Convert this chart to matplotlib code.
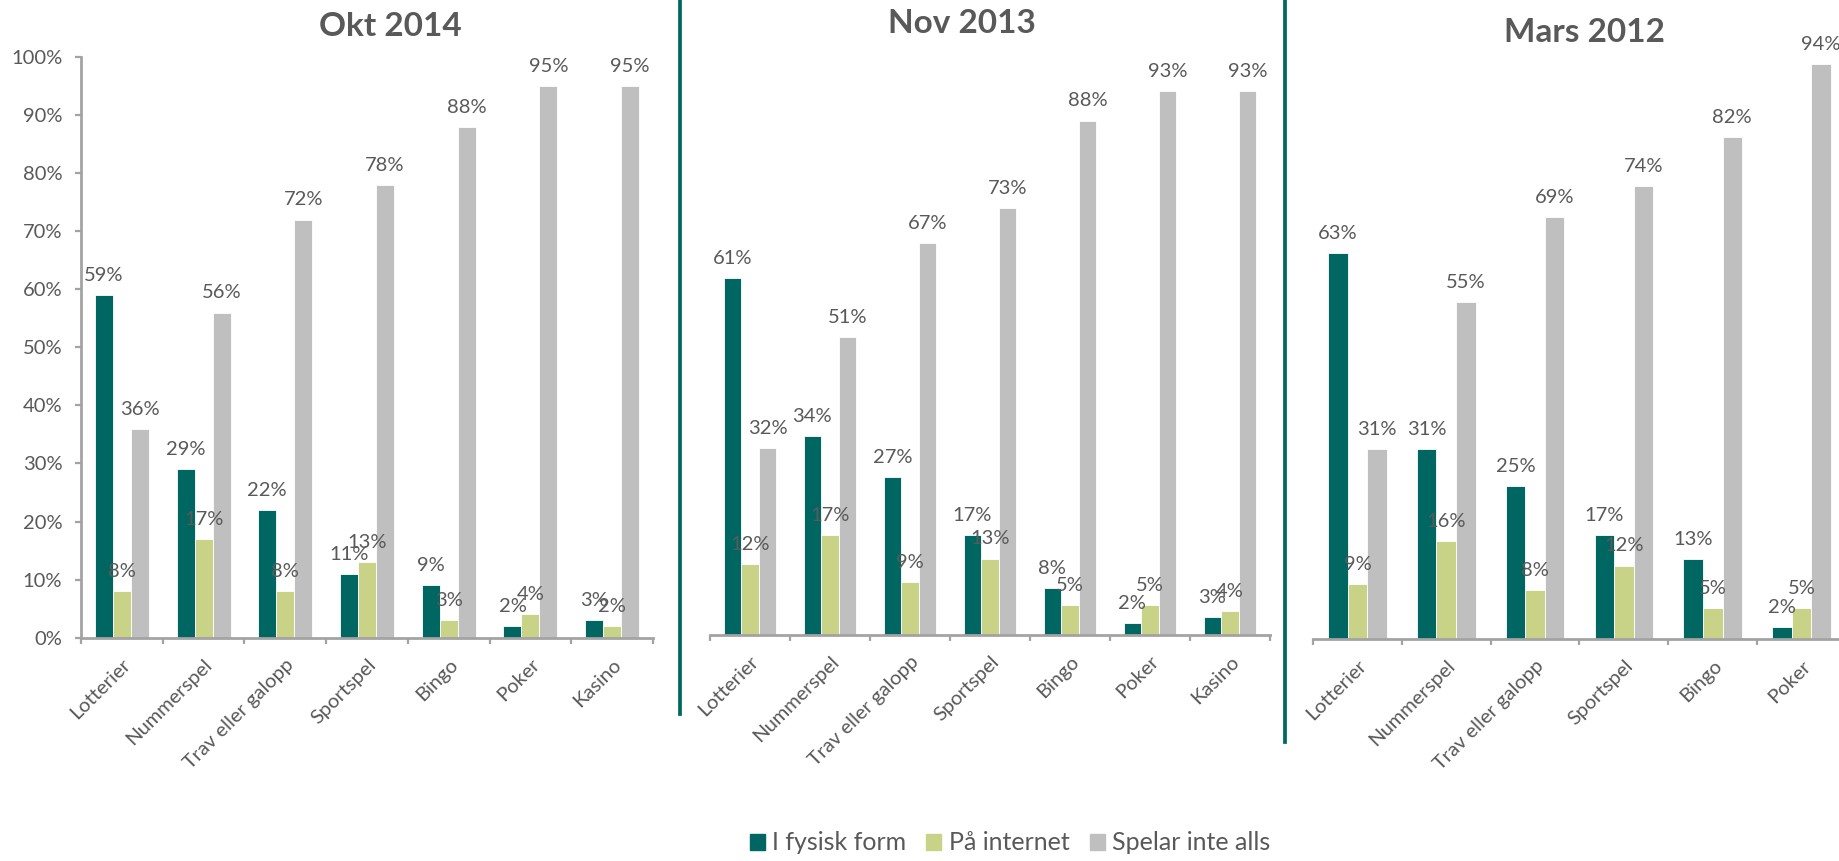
import matplotlib
matplotlib.use('Agg')
import matplotlib.pyplot as plt
from matplotlib.lines import Line2D
from matplotlib.patches import Patch

plt.rcParams['font.family'] = ['Lato', 'DejaVu Sans']

# data
kategorier = ['Lotterier', 'Nummerspel', 'Trav eller galopp', 'Sportspel', 'Bingo', 'Poker', 'Kasino']
serier = ['I fysisk form', 'På internet', 'Spelar inte alls']
titlar = ['Okt 2014', 'Nov 2013', 'Mars 2012']

fysisk_2014 = [59, 29, 22, 11, 9, 2, 3]
internet_2014 = [8, 17, 8, 13, 3, 4, 2]
inte_2014 = [36, 56, 72, 78, 88, 95, 95]

fysisk_2013 = [61, 34, 27, 17, 8, 2, 3]
internet_2013 = [12, 17, 9, 13, 5, 5, 4]
inte_2013 = [32, 51, 67, 73, 88, 93, 93]

fysisk_2012 = [63, 31, 25, 17, 13, 2]
internet_2012 = [9, 16, 8, 12, 5, 5]
inte_2012 = [31, 55, 69, 74, 82, 94]

farger = ['#006661', '#c9d387', '#bfbfbf']
textfarg = '#595959'
axelfarg = '#a3a3a3'

W, H = 1840, 861
fig = plt.figure(figsize=(W / 100, H / 100), dpi=100)


def rect(l, r, bas, topp):
    return [l / W, 1 - bas / H, (r - l) / W, (bas - topp) / H]


paneler = [
    (rect(81, 653, 637.7, 57), [fysisk_2014, internet_2014, inte_2014], True),
    (rect(710, 1270, 634.5, 50.5), [fysisk_2013, internet_2013, inte_2013], False),
    (rect(1313, 1846, 639, 27), [fysisk_2012, internet_2012, inte_2012], False),
]

bredd = 0.22
for pos, data, yaxel in paneler:
    ax = fig.add_axes(pos)
    n = len(data[0])
    x = list(range(n))
    for j, vals in enumerate(data):
        xs = [i + (j - 1) * bredd for i in x]
        ax.bar(xs, vals, bredd, color=farger[j], edgecolor='white', linewidth=0.6, zorder=2)
        for xi, v in zip(xs, vals):
            ax.annotate(f'{v}%', (xi, v), xytext=(0, 8), textcoords='offset points',
                        ha='center', va='bottom', fontsize=14.5, color=textfarg, zorder=3)
    ax.set_xlim(-0.5, n - 0.5)
    ax.set_ylim(0, 100)
    for s in ['top', 'right']:
        ax.spines[s].set_visible(False)
    ax.spines['bottom'].set_color(axelfarg)
    ax.spines['bottom'].set_linewidth(2)
    ax.spines['bottom'].set_zorder(4)
    ax.set_xticks(x)
    ax.set_xticklabels(kategorier[:n], rotation=45, ha='right', rotation_mode='anchor',
                       fontsize=14.5, color=textfarg)
    ax.tick_params(axis='x', length=0, pad=13)
    ax.set_xticks([i - 0.5 for i in range(n + 1)], minor=True)
    ax.tick_params(axis='x', which='minor', length=4.5, width=1.6, color=axelfarg)
    if yaxel:
        ax.spines['left'].set_color(axelfarg)
        ax.spines['left'].set_linewidth(2)
        ticks = list(range(0, 101, 10))
        ax.set_yticks(ticks)
        ax.set_yticklabels([f'{t}%' for t in ticks], fontsize=14.5, color=textfarg)
        ax.tick_params(axis='y', length=4.5, width=1.6, color=axelfarg, pad=9)
    else:
        ax.spines['left'].set_visible(False)
        ax.set_yticks([])
    ax.patch.set_visible(False)

# titles
titel_pos = [(390, 26), (962, 23.5), (1584, 33)]
for t, (tx, ty) in zip(titlar, titel_pos):
    fig.text(tx / W, 1 - ty / H, t, ha='center', va='center', fontsize=24,
             fontweight='bold', color=textfarg)

# divider lines
fig.add_artist(Line2D([680 / W, 680 / W], [1, 1 - 714 / H], color='#006661', lw=2.7,
                      transform=fig.transFigure))
fig.add_artist(Line2D([1285 / W, 1285 / W], [1, 1 - 742 / H], color='#006661', lw=2.7,
                      transform=fig.transFigure))

handles = [Patch(color=c, label=s) for c, s in zip(farger, serier)]
fig.legend(handles=handles, loc='center', bbox_to_anchor=(1010 / W, 1 - 843 / H), ncol=3,
           frameon=False, fontsize=18, handlelength=0.6, handleheight=0.6,
           handletextpad=0.3, columnspacing=0.8, labelcolor=textfarg)

fig.savefig('out.png', dpi=100)
